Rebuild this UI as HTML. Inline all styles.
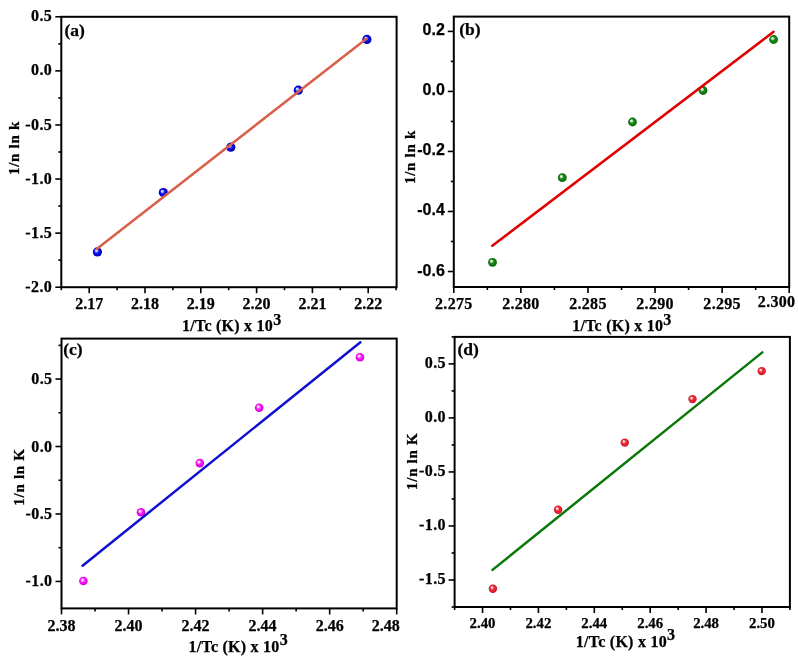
<!DOCTYPE html>
<html><head><meta charset="utf-8"><title>Plots</title>
<style>html,body{margin:0;padding:0;background:#fff;}svg{display:block;}text{stroke:#000;stroke-width:0.25px;}</style></head>
<body><svg width="798" height="658" viewBox="0 0 798 658">
<rect width="798" height="658" fill="#fff"/>
<defs>
<radialGradient id="gb" cx="0.5" cy="0.5" r="0.5" fx="0.34" fy="0.32">
 <stop offset="0" stop-color="#f0f4ff"/><stop offset="0.25" stop-color="#a8b4ff"/><stop offset="0.48" stop-color="#1414ec"/><stop offset="0.8" stop-color="#0000d8"/><stop offset="1" stop-color="#00009c"/></radialGradient>
<radialGradient id="gg" cx="0.5" cy="0.5" r="0.5" fx="0.34" fy="0.32">
 <stop offset="0" stop-color="#ffffff"/><stop offset="0.25" stop-color="#c0dcc0"/><stop offset="0.48" stop-color="#1a841a"/><stop offset="0.8" stop-color="#0a7c0a"/><stop offset="1" stop-color="#065a06"/></radialGradient>
<radialGradient id="gm" cx="0.5" cy="0.5" r="0.5" fx="0.34" fy="0.32">
 <stop offset="0" stop-color="#ffffff"/><stop offset="0.25" stop-color="#ffc0ff"/><stop offset="0.48" stop-color="#f030f0"/><stop offset="0.8" stop-color="#f000f0"/><stop offset="1" stop-color="#d000d0"/></radialGradient>
<radialGradient id="gr" cx="0.5" cy="0.5" r="0.5" fx="0.34" fy="0.32">
 <stop offset="0" stop-color="#fff4f4"/><stop offset="0.25" stop-color="#f8b0b4"/><stop offset="0.48" stop-color="#e82830"/><stop offset="0.8" stop-color="#e81c2c"/><stop offset="1" stop-color="#b81428"/></radialGradient>
</defs>
<g><circle cx="97.4" cy="251.9" r="4.6" fill="url(#gb)"/>
<circle cx="163.3" cy="192.5" r="4.6" fill="url(#gb)"/>
<circle cx="230.8" cy="147.2" r="4.6" fill="url(#gb)"/>
<circle cx="298.3" cy="90.2" r="4.6" fill="url(#gb)"/>
<circle cx="366.9" cy="39.4" r="4.6" fill="url(#gb)"/>
<line x1="97.0" y1="248.8" x2="366.4" y2="38.7" stroke="#d8604a" stroke-width="2.5" stroke-linecap="round"/>
<rect x="61.3" y="16.8" width="335.30" height="270.40" fill="none" stroke="#000" stroke-width="2.0"/>
<line x1="89.20" y1="287.2" x2="89.20" y2="293.20" stroke="#000" stroke-width="1.6"/>
<line x1="145.00" y1="287.2" x2="145.00" y2="293.20" stroke="#000" stroke-width="1.6"/>
<line x1="200.80" y1="287.2" x2="200.80" y2="293.20" stroke="#000" stroke-width="1.6"/>
<line x1="256.60" y1="287.2" x2="256.60" y2="293.20" stroke="#000" stroke-width="1.6"/>
<line x1="312.40" y1="287.2" x2="312.40" y2="293.20" stroke="#000" stroke-width="1.6"/>
<line x1="368.20" y1="287.2" x2="368.20" y2="293.20" stroke="#000" stroke-width="1.6"/>
<line x1="61.30" y1="287.2" x2="61.30" y2="290.20" stroke="#000" stroke-width="1.6"/>
<line x1="117.10" y1="287.2" x2="117.10" y2="290.20" stroke="#000" stroke-width="1.6"/>
<line x1="172.90" y1="287.2" x2="172.90" y2="290.20" stroke="#000" stroke-width="1.6"/>
<line x1="228.70" y1="287.2" x2="228.70" y2="290.20" stroke="#000" stroke-width="1.6"/>
<line x1="284.50" y1="287.2" x2="284.50" y2="290.20" stroke="#000" stroke-width="1.6"/>
<line x1="340.30" y1="287.2" x2="340.30" y2="290.20" stroke="#000" stroke-width="1.6"/>
<line x1="396.10" y1="287.2" x2="396.10" y2="290.20" stroke="#000" stroke-width="1.6"/>
<line x1="61.3" y1="287.20" x2="55.30" y2="287.20" stroke="#000" stroke-width="1.6"/>
<line x1="61.3" y1="233.12" x2="55.30" y2="233.12" stroke="#000" stroke-width="1.6"/>
<line x1="61.3" y1="179.04" x2="55.30" y2="179.04" stroke="#000" stroke-width="1.6"/>
<line x1="61.3" y1="124.96" x2="55.30" y2="124.96" stroke="#000" stroke-width="1.6"/>
<line x1="61.3" y1="70.88" x2="55.30" y2="70.88" stroke="#000" stroke-width="1.6"/>
<line x1="61.3" y1="16.80" x2="55.30" y2="16.80" stroke="#000" stroke-width="1.6"/>
<line x1="61.3" y1="260.16" x2="58.30" y2="260.16" stroke="#000" stroke-width="1.6"/>
<line x1="61.3" y1="206.08" x2="58.30" y2="206.08" stroke="#000" stroke-width="1.6"/>
<line x1="61.3" y1="152.00" x2="58.30" y2="152.00" stroke="#000" stroke-width="1.6"/>
<line x1="61.3" y1="97.92" x2="58.30" y2="97.92" stroke="#000" stroke-width="1.6"/>
<line x1="61.3" y1="43.84" x2="58.30" y2="43.84" stroke="#000" stroke-width="1.6"/>
<text x="89.20" y="308.70" text-anchor="middle" font-family="'Liberation Serif', 'Times New Roman', serif" font-size="16" letter-spacing="0" font-weight="bold">2.17</text>
<text x="145.00" y="308.70" text-anchor="middle" font-family="'Liberation Serif', 'Times New Roman', serif" font-size="16" letter-spacing="0" font-weight="bold">2.18</text>
<text x="200.80" y="308.70" text-anchor="middle" font-family="'Liberation Serif', 'Times New Roman', serif" font-size="16" letter-spacing="0" font-weight="bold">2.19</text>
<text x="256.60" y="308.70" text-anchor="middle" font-family="'Liberation Serif', 'Times New Roman', serif" font-size="16" letter-spacing="0" font-weight="bold">2.20</text>
<text x="312.40" y="308.70" text-anchor="middle" font-family="'Liberation Serif', 'Times New Roman', serif" font-size="16" letter-spacing="0" font-weight="bold">2.21</text>
<text x="368.20" y="308.70" text-anchor="middle" font-family="'Liberation Serif', 'Times New Roman', serif" font-size="16" letter-spacing="0" font-weight="bold">2.22</text>
<text x="52.20" y="291.80" text-anchor="end" font-family="'Liberation Serif', 'Times New Roman', serif" font-size="16" letter-spacing="0.4" font-weight="bold">-2.0</text>
<text x="52.20" y="237.72" text-anchor="end" font-family="'Liberation Serif', 'Times New Roman', serif" font-size="16" letter-spacing="0.4" font-weight="bold">-1.5</text>
<text x="52.20" y="183.64" text-anchor="end" font-family="'Liberation Serif', 'Times New Roman', serif" font-size="16" letter-spacing="0.4" font-weight="bold">-1.0</text>
<text x="52.20" y="129.56" text-anchor="end" font-family="'Liberation Serif', 'Times New Roman', serif" font-size="16" letter-spacing="0.4" font-weight="bold">-0.5</text>
<text x="52.20" y="75.48" text-anchor="end" font-family="'Liberation Serif', 'Times New Roman', serif" font-size="16" letter-spacing="0.4" font-weight="bold">0.0</text>
<text x="52.20" y="21.40" text-anchor="end" font-family="'Liberation Serif', 'Times New Roman', serif" font-size="16" letter-spacing="0.4" font-weight="bold">0.5</text>
<text x="231.7" y="331.4" text-anchor="middle" font-family="'Liberation Serif', 'Times New Roman', serif" font-size="16" letter-spacing="0.25" font-weight="bold">1/Tc (K) x 10<tspan dy="-6.5" font-size="16.0">3</tspan></text>
<text transform="translate(19.3,148.0) rotate(-90)" x="0" y="0" text-anchor="middle" font-family="'Liberation Serif', 'Times New Roman', serif" font-size="15" letter-spacing="0.7" font-weight="bold">1/n ln k</text>
<text x="64.5" y="35.5" font-family="'Liberation Serif', 'Times New Roman', serif" font-size="17.5" font-weight="bold">(a)</text></g>
<g><circle cx="492.5" cy="262.3" r="4.4" fill="url(#gg)"/>
<circle cx="562.3" cy="177.7" r="4.4" fill="url(#gg)"/>
<circle cx="632.5" cy="122.0" r="4.4" fill="url(#gg)"/>
<circle cx="703.0" cy="90.5" r="4.4" fill="url(#gg)"/>
<circle cx="773.6" cy="39.5" r="4.4" fill="url(#gg)"/>
<line x1="492.3" y1="245.8" x2="773.6" y2="31.8" stroke="#e00000" stroke-width="2.5" stroke-linecap="round"/>
<rect x="453.8" y="16.6" width="335.40" height="270.40" fill="none" stroke="#000" stroke-width="2.0"/>
<line x1="453.80" y1="287.0" x2="453.80" y2="293.00" stroke="#000" stroke-width="1.6"/>
<line x1="520.88" y1="287.0" x2="520.88" y2="293.00" stroke="#000" stroke-width="1.6"/>
<line x1="587.96" y1="287.0" x2="587.96" y2="293.00" stroke="#000" stroke-width="1.6"/>
<line x1="655.04" y1="287.0" x2="655.04" y2="293.00" stroke="#000" stroke-width="1.6"/>
<line x1="722.12" y1="287.0" x2="722.12" y2="293.00" stroke="#000" stroke-width="1.6"/>
<line x1="789.20" y1="287.0" x2="789.20" y2="293.00" stroke="#000" stroke-width="1.6"/>
<line x1="487.34" y1="287.0" x2="487.34" y2="290.00" stroke="#000" stroke-width="1.6"/>
<line x1="554.42" y1="287.0" x2="554.42" y2="290.00" stroke="#000" stroke-width="1.6"/>
<line x1="621.50" y1="287.0" x2="621.50" y2="290.00" stroke="#000" stroke-width="1.6"/>
<line x1="688.58" y1="287.0" x2="688.58" y2="290.00" stroke="#000" stroke-width="1.6"/>
<line x1="755.66" y1="287.0" x2="755.66" y2="290.00" stroke="#000" stroke-width="1.6"/>
<line x1="453.8" y1="271.50" x2="447.80" y2="271.50" stroke="#000" stroke-width="1.6"/>
<line x1="453.8" y1="211.48" x2="447.80" y2="211.48" stroke="#000" stroke-width="1.6"/>
<line x1="453.8" y1="151.45" x2="447.80" y2="151.45" stroke="#000" stroke-width="1.6"/>
<line x1="453.8" y1="91.42" x2="447.80" y2="91.42" stroke="#000" stroke-width="1.6"/>
<line x1="453.8" y1="31.40" x2="447.80" y2="31.40" stroke="#000" stroke-width="1.6"/>
<line x1="453.8" y1="241.49" x2="450.80" y2="241.49" stroke="#000" stroke-width="1.6"/>
<line x1="453.8" y1="181.46" x2="450.80" y2="181.46" stroke="#000" stroke-width="1.6"/>
<line x1="453.8" y1="121.44" x2="450.80" y2="121.44" stroke="#000" stroke-width="1.6"/>
<line x1="453.8" y1="61.41" x2="450.80" y2="61.41" stroke="#000" stroke-width="1.6"/>
<text x="453.80" y="308.60" text-anchor="middle" font-family="'Liberation Serif', 'Times New Roman', serif" font-size="16" letter-spacing="0.3" font-weight="bold">2.275</text>
<text x="520.88" y="308.60" text-anchor="middle" font-family="'Liberation Serif', 'Times New Roman', serif" font-size="16" letter-spacing="0.3" font-weight="bold">2.280</text>
<text x="587.96" y="308.60" text-anchor="middle" font-family="'Liberation Serif', 'Times New Roman', serif" font-size="16" letter-spacing="0.3" font-weight="bold">2.285</text>
<text x="655.04" y="308.60" text-anchor="middle" font-family="'Liberation Serif', 'Times New Roman', serif" font-size="16" letter-spacing="0.3" font-weight="bold">2.290</text>
<text x="722.12" y="308.60" text-anchor="middle" font-family="'Liberation Serif', 'Times New Roman', serif" font-size="16" letter-spacing="0.3" font-weight="bold">2.295</text>
<text x="776.60" y="307.10" text-anchor="middle" font-family="'Liberation Serif', 'Times New Roman', serif" font-size="16" letter-spacing="0.3" font-weight="bold">2.300</text>
<text x="444.80" y="275.50" text-anchor="end" font-family="'Liberation Sans', Arial, sans-serif" font-size="16" letter-spacing="0" font-weight="bold">-0.6</text>
<text x="444.80" y="215.48" text-anchor="end" font-family="'Liberation Sans', Arial, sans-serif" font-size="16" letter-spacing="0" font-weight="bold">-0.4</text>
<text x="444.80" y="155.45" text-anchor="end" font-family="'Liberation Sans', Arial, sans-serif" font-size="16" letter-spacing="0" font-weight="bold">-0.2</text>
<text x="444.80" y="95.42" text-anchor="end" font-family="'Liberation Sans', Arial, sans-serif" font-size="16" letter-spacing="0" font-weight="bold">0.0</text>
<text x="444.80" y="35.40" text-anchor="end" font-family="'Liberation Sans', Arial, sans-serif" font-size="16" letter-spacing="0" font-weight="bold">0.2</text>
<text x="621.9" y="331.0" text-anchor="middle" font-family="'Liberation Serif', 'Times New Roman', serif" font-size="16" letter-spacing="0.25" font-weight="bold">1/Tc (K) x 10<tspan dy="-6.5" font-size="16.0">3</tspan></text>
<text transform="translate(414.8,157.0) rotate(-90)" x="0" y="0" text-anchor="middle" font-family="'Liberation Serif', 'Times New Roman', serif" font-size="15" letter-spacing="0.7" font-weight="bold">1/n ln k</text>
<text x="459.3" y="35.0" font-family="'Liberation Serif', 'Times New Roman', serif" font-size="17.5" font-weight="bold">(b)</text></g>
<g><circle cx="83.4" cy="581.0" r="4.3" fill="url(#gm)"/>
<circle cx="141.0" cy="512.3" r="4.3" fill="url(#gm)"/>
<circle cx="199.8" cy="463.1" r="4.3" fill="url(#gm)"/>
<circle cx="259.2" cy="407.8" r="4.3" fill="url(#gm)"/>
<circle cx="360.0" cy="357.2" r="4.3" fill="url(#gm)"/>
<line x1="82.6" y1="565.7" x2="360.4" y2="342.3" stroke="#1010d0" stroke-width="2.5" stroke-linecap="round"/>
<rect x="61.5" y="338.6" width="335.20" height="269.80" fill="none" stroke="#000" stroke-width="2.0"/>
<line x1="61.50" y1="608.4" x2="61.50" y2="614.40" stroke="#000" stroke-width="1.6"/>
<line x1="128.54" y1="608.4" x2="128.54" y2="614.40" stroke="#000" stroke-width="1.6"/>
<line x1="195.58" y1="608.4" x2="195.58" y2="614.40" stroke="#000" stroke-width="1.6"/>
<line x1="262.62" y1="608.4" x2="262.62" y2="614.40" stroke="#000" stroke-width="1.6"/>
<line x1="329.66" y1="608.4" x2="329.66" y2="614.40" stroke="#000" stroke-width="1.6"/>
<line x1="396.70" y1="608.4" x2="396.70" y2="614.40" stroke="#000" stroke-width="1.6"/>
<line x1="95.02" y1="608.4" x2="95.02" y2="611.40" stroke="#000" stroke-width="1.6"/>
<line x1="162.06" y1="608.4" x2="162.06" y2="611.40" stroke="#000" stroke-width="1.6"/>
<line x1="229.10" y1="608.4" x2="229.10" y2="611.40" stroke="#000" stroke-width="1.6"/>
<line x1="296.14" y1="608.4" x2="296.14" y2="611.40" stroke="#000" stroke-width="1.6"/>
<line x1="363.18" y1="608.4" x2="363.18" y2="611.40" stroke="#000" stroke-width="1.6"/>
<line x1="61.5" y1="581.42" x2="55.50" y2="581.42" stroke="#000" stroke-width="1.6"/>
<line x1="61.5" y1="513.97" x2="55.50" y2="513.97" stroke="#000" stroke-width="1.6"/>
<line x1="61.5" y1="446.52" x2="55.50" y2="446.52" stroke="#000" stroke-width="1.6"/>
<line x1="61.5" y1="379.07" x2="55.50" y2="379.07" stroke="#000" stroke-width="1.6"/>
<line x1="61.5" y1="547.69" x2="58.50" y2="547.69" stroke="#000" stroke-width="1.6"/>
<line x1="61.5" y1="480.25" x2="58.50" y2="480.25" stroke="#000" stroke-width="1.6"/>
<line x1="61.5" y1="412.80" x2="58.50" y2="412.80" stroke="#000" stroke-width="1.6"/>
<line x1="61.5" y1="345.35" x2="58.50" y2="345.35" stroke="#000" stroke-width="1.6"/>
<text x="61.50" y="630.90" text-anchor="middle" font-family="'Liberation Serif', 'Times New Roman', serif" font-size="16" letter-spacing="0" font-weight="bold">2.38</text>
<text x="128.54" y="630.90" text-anchor="middle" font-family="'Liberation Serif', 'Times New Roman', serif" font-size="16" letter-spacing="0" font-weight="bold">2.40</text>
<text x="195.58" y="630.90" text-anchor="middle" font-family="'Liberation Serif', 'Times New Roman', serif" font-size="16" letter-spacing="0" font-weight="bold">2.42</text>
<text x="262.62" y="630.90" text-anchor="middle" font-family="'Liberation Serif', 'Times New Roman', serif" font-size="16" letter-spacing="0" font-weight="bold">2.44</text>
<text x="329.66" y="630.90" text-anchor="middle" font-family="'Liberation Serif', 'Times New Roman', serif" font-size="16" letter-spacing="0" font-weight="bold">2.46</text>
<text x="385.70" y="630.90" text-anchor="middle" font-family="'Liberation Serif', 'Times New Roman', serif" font-size="16" letter-spacing="0" font-weight="bold">2.48</text>
<text x="52.35" y="586.42" text-anchor="end" font-family="'Liberation Serif', 'Times New Roman', serif" font-size="16" letter-spacing="0.35" font-weight="bold">-1.0</text>
<text x="52.35" y="518.97" text-anchor="end" font-family="'Liberation Serif', 'Times New Roman', serif" font-size="16" letter-spacing="0.35" font-weight="bold">-0.5</text>
<text x="52.35" y="451.52" text-anchor="end" font-family="'Liberation Serif', 'Times New Roman', serif" font-size="16" letter-spacing="0.35" font-weight="bold">0.0</text>
<text x="52.35" y="384.07" text-anchor="end" font-family="'Liberation Serif', 'Times New Roman', serif" font-size="16" letter-spacing="0.35" font-weight="bold">0.5</text>
<text x="238.2" y="651.8" text-anchor="middle" font-family="'Liberation Serif', 'Times New Roman', serif" font-size="16" letter-spacing="0.25" font-weight="bold">1/Tc (K) x 10<tspan dy="-6.5" font-size="16.0">3</tspan></text>
<text transform="translate(23.7,477.0) rotate(-90)" x="0" y="0" text-anchor="middle" font-family="'Liberation Serif', 'Times New Roman', serif" font-size="15" letter-spacing="0.7" font-weight="bold">1/n ln K</text>
<text x="63.2" y="354.8" font-family="'Liberation Serif', 'Times New Roman', serif" font-size="17.5" font-weight="bold">(c)</text></g>
<g><circle cx="492.9" cy="588.7" r="4.2" fill="url(#gr)"/>
<circle cx="558.1" cy="509.7" r="4.2" fill="url(#gr)"/>
<circle cx="624.8" cy="442.6" r="4.2" fill="url(#gr)"/>
<circle cx="692.5" cy="399.1" r="4.2" fill="url(#gr)"/>
<circle cx="761.7" cy="371.1" r="4.2" fill="url(#gr)"/>
<line x1="492.5" y1="569.9" x2="762.3" y2="352.4" stroke="#0a780a" stroke-width="2.5" stroke-linecap="round"/>
<rect x="454.6" y="336.9" width="335.30" height="270.10" fill="none" stroke="#000" stroke-width="2.0"/>
<line x1="482.54" y1="607.0" x2="482.54" y2="613.00" stroke="#000" stroke-width="1.6"/>
<line x1="538.42" y1="607.0" x2="538.42" y2="613.00" stroke="#000" stroke-width="1.6"/>
<line x1="594.31" y1="607.0" x2="594.31" y2="613.00" stroke="#000" stroke-width="1.6"/>
<line x1="650.19" y1="607.0" x2="650.19" y2="613.00" stroke="#000" stroke-width="1.6"/>
<line x1="706.08" y1="607.0" x2="706.08" y2="613.00" stroke="#000" stroke-width="1.6"/>
<line x1="761.96" y1="607.0" x2="761.96" y2="613.00" stroke="#000" stroke-width="1.6"/>
<line x1="454.60" y1="607.0" x2="454.60" y2="610.00" stroke="#000" stroke-width="1.6"/>
<line x1="510.48" y1="607.0" x2="510.48" y2="610.00" stroke="#000" stroke-width="1.6"/>
<line x1="566.37" y1="607.0" x2="566.37" y2="610.00" stroke="#000" stroke-width="1.6"/>
<line x1="622.25" y1="607.0" x2="622.25" y2="610.00" stroke="#000" stroke-width="1.6"/>
<line x1="678.13" y1="607.0" x2="678.13" y2="610.00" stroke="#000" stroke-width="1.6"/>
<line x1="734.02" y1="607.0" x2="734.02" y2="610.00" stroke="#000" stroke-width="1.6"/>
<line x1="789.90" y1="607.0" x2="789.90" y2="610.00" stroke="#000" stroke-width="1.6"/>
<line x1="454.6" y1="579.99" x2="448.60" y2="579.99" stroke="#000" stroke-width="1.6"/>
<line x1="454.6" y1="525.97" x2="448.60" y2="525.97" stroke="#000" stroke-width="1.6"/>
<line x1="454.6" y1="471.95" x2="448.60" y2="471.95" stroke="#000" stroke-width="1.6"/>
<line x1="454.6" y1="417.93" x2="448.60" y2="417.93" stroke="#000" stroke-width="1.6"/>
<line x1="454.6" y1="363.91" x2="448.60" y2="363.91" stroke="#000" stroke-width="1.6"/>
<line x1="454.6" y1="607.00" x2="451.60" y2="607.00" stroke="#000" stroke-width="1.6"/>
<line x1="454.6" y1="552.98" x2="451.60" y2="552.98" stroke="#000" stroke-width="1.6"/>
<line x1="454.6" y1="498.96" x2="451.60" y2="498.96" stroke="#000" stroke-width="1.6"/>
<line x1="454.6" y1="444.94" x2="451.60" y2="444.94" stroke="#000" stroke-width="1.6"/>
<line x1="454.6" y1="390.92" x2="451.60" y2="390.92" stroke="#000" stroke-width="1.6"/>
<line x1="454.6" y1="336.90" x2="451.60" y2="336.90" stroke="#000" stroke-width="1.6"/>
<text x="482.54" y="627.70" text-anchor="middle" font-family="'Liberation Serif', 'Times New Roman', serif" font-size="14.8" letter-spacing="0" font-weight="bold">2.40</text>
<text x="538.42" y="627.70" text-anchor="middle" font-family="'Liberation Serif', 'Times New Roman', serif" font-size="14.8" letter-spacing="0" font-weight="bold">2.42</text>
<text x="594.31" y="627.70" text-anchor="middle" font-family="'Liberation Serif', 'Times New Roman', serif" font-size="14.8" letter-spacing="0" font-weight="bold">2.44</text>
<text x="650.19" y="627.70" text-anchor="middle" font-family="'Liberation Serif', 'Times New Roman', serif" font-size="14.8" letter-spacing="0" font-weight="bold">2.46</text>
<text x="706.08" y="627.70" text-anchor="middle" font-family="'Liberation Serif', 'Times New Roman', serif" font-size="14.8" letter-spacing="0" font-weight="bold">2.48</text>
<text x="761.96" y="627.70" text-anchor="middle" font-family="'Liberation Serif', 'Times New Roman', serif" font-size="14.8" letter-spacing="0" font-weight="bold">2.50</text>
<text x="446.00" y="583.99" text-anchor="end" font-family="'Liberation Serif', 'Times New Roman', serif" font-size="16" letter-spacing="0.4" font-weight="bold">-1.5</text>
<text x="446.00" y="529.97" text-anchor="end" font-family="'Liberation Serif', 'Times New Roman', serif" font-size="16" letter-spacing="0.4" font-weight="bold">-1.0</text>
<text x="446.00" y="475.95" text-anchor="end" font-family="'Liberation Serif', 'Times New Roman', serif" font-size="16" letter-spacing="0.4" font-weight="bold">-0.5</text>
<text x="446.00" y="421.93" text-anchor="end" font-family="'Liberation Serif', 'Times New Roman', serif" font-size="16" letter-spacing="0.4" font-weight="bold">0.0</text>
<text x="446.00" y="367.91" text-anchor="end" font-family="'Liberation Serif', 'Times New Roman', serif" font-size="16" letter-spacing="0.4" font-weight="bold">0.5</text>
<text x="625.5" y="646.8" text-anchor="middle" font-family="'Liberation Serif', 'Times New Roman', serif" font-size="16" letter-spacing="0.25" font-weight="bold">1/Tc (K) x 10<tspan dy="-6.5" font-size="16.0">3</tspan></text>
<text transform="translate(416.8,461.3) rotate(-90)" x="0" y="0" text-anchor="middle" font-family="'Liberation Serif', 'Times New Roman', serif" font-size="15" letter-spacing="0.7" font-weight="bold">1/n ln K</text>
<text x="457.5" y="355.0" font-family="'Liberation Serif', 'Times New Roman', serif" font-size="17.5" font-weight="bold">(d)</text></g>
</svg></body></html>
